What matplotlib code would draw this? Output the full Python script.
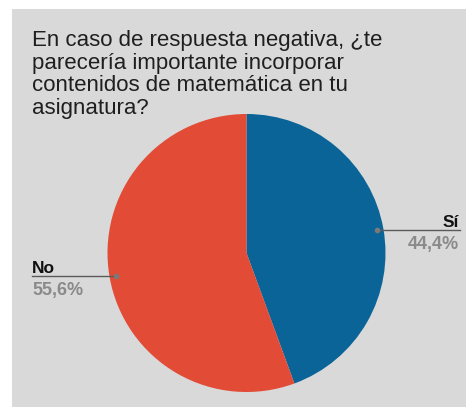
import numpy as np
import matplotlib.pyplot as plt
from matplotlib.patches import Rectangle

title = "En caso de respuesta negativa, ¿te\nparecería importante incorporar\ncontenidos de matemática en tu\nasignatura?"
labels = ["Sí", "No"]
values = [44.4, 55.6]
colors = ["#0b6497", "#e24b35"]

W, H = 466, 407
plt.rcParams['font.family'] = ['Liberation Sans', 'DejaVu Sans']

fig = plt.figure(figsize=(W / 100, H / 100), dpi=100)
fig.patch.set_facecolor("white")

# grey card behind everything
fig.patches.append(Rectangle((12 / W, 0), 1 - 12 / W, 1 - 9 / H,
                             transform=fig.transFigure, facecolor="#d9d9d9",
                             edgecolor="none", zorder=-5))


def px(x, y):
    return x / W, 1 - y / H


fig.text(*px(32, 114), title, fontsize=16, color="#1f1f1f", va="baseline",
         ha="left", linespacing=1.095)

cx, cy, r = 246.5, 253, 139
ax = fig.add_axes([(cx - r) / W, (H - cy - r) / H, 2 * r / W, 2 * r / H])
ax.set_zorder(2)
wedges, _ = ax.pie(values, colors=colors, startangle=90, counterclock=False,
                   radius=1, wedgeprops=dict(linewidth=0))
ax.set_xlim(-1, 1)
ax.set_ylim(-1, 1)
ax.set_aspect("equal")
ax.axis("off")

# leader lines with label and percentage
for w, lab, v in zip(wedges, labels, values):
    mid = np.deg2rad((w.theta1 + w.theta2) / 2)
    x0, y0 = 0.95 * np.cos(mid), 0.95 * np.sin(mid)
    right = x0 > 0
    x1 = (460 - cx) / r if right else (32 - cx) / r
    ax.plot([x0, x1], [y0, y0], color="#5a5a5a", lw=1, clip_on=False)
    ax.plot([x0], [y0], "o", ms=3, color="#7a7a7a", clip_on=False)
    ha = "right" if right else "left"
    xt = (459 - cx) / r if right else x1
    ax.text(xt, y0 + 3 / r, lab, ha=ha, va="baseline", fontsize=12.5,
            fontweight="bold", color="#111111", clip_on=False)
    ax.text(xt, y0 - 6 / r, f"{v:.1f}%".replace(".", ","), ha=ha, va="top",
            fontsize=13, fontweight="bold", color="#8a8a8a", clip_on=False)

fig.savefig("out.png", dpi=100)
